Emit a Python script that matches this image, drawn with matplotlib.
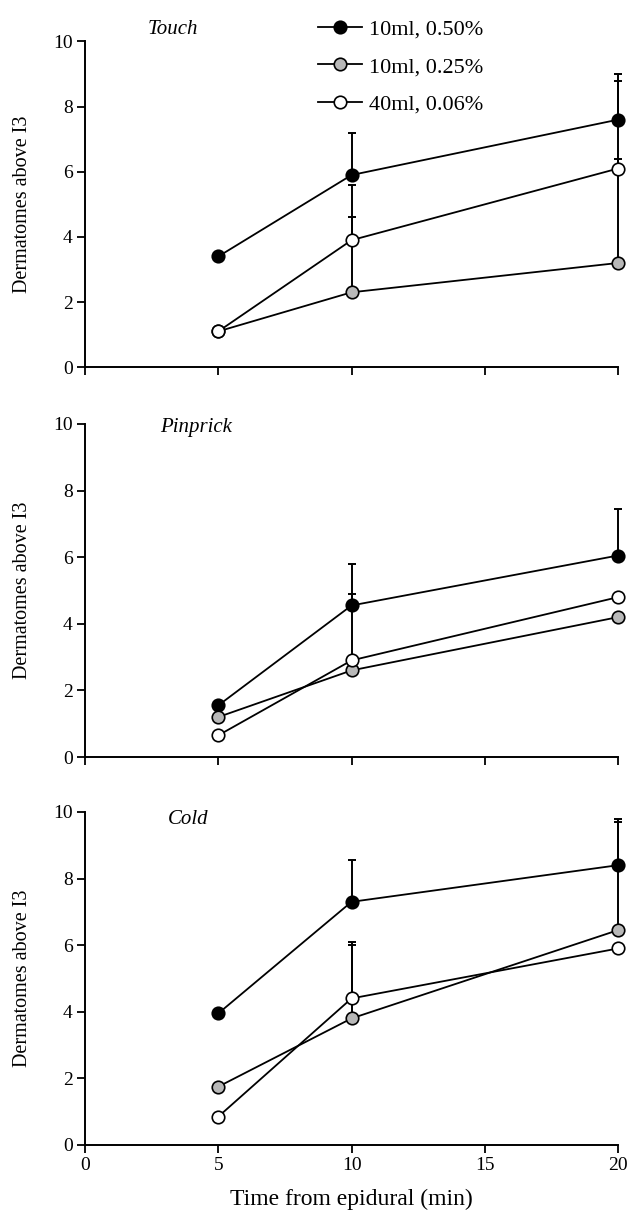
'''Dermatome spread after epidural, three sensory modalities'''
import matplotlib.pyplot as plt

plt.rcParams['font.family'] = ['Liberation Serif', 'DejaVu Serif']

times = [5, 10, 20]
series_labels = ['10ml, 0.50%', '10ml, 0.25%', '40ml, 0.06%']
panel_titles = ['Touch', 'Pinprick', 'Cold']

# mean values per panel, per series (upper error only)
touch_vals = [[3.4, 5.9, 7.6], [1.1, 2.3, 3.2], [1.1, 3.9, 6.1]]
touch_err = [[0, 1.3, 1.4], [0, 2.3, 3.2], [0, 1.7, 2.7]]
pinprick_vals = [[1.55, 4.55, 6.05], [1.2, 2.6, 4.2], [0.65, 2.9, 4.8]]
pinprick_err = [[0, 1.25, 1.4], [0, 0, 0], [0, 2.0, 0]]
cold_vals = [[3.95, 7.3, 8.4], [1.75, 3.8, 6.45], [0.85, 4.4, 5.9]]
cold_err = [[0, 1.25, 1.4], [0, 2.2, 3.25], [0, 1.7, 0]]

all_vals = [touch_vals, pinprick_vals, cold_vals]
all_err = [touch_err, pinprick_err, cold_err]

fills = ['black', '#b8b8b8', 'white']

fig = plt.figure(figsize=(6.3, 12.2), dpi=100)
boxes = [[0.135, 0.699, 0.846, 0.267],
         [0.135, 0.3795, 0.846, 0.273],
         [0.135, 0.0615, 0.846, 0.273]]
title_pos = [(0.118, 1.037), (0.141, 0.988), (0.156, 0.976)]

for p in range(3):
    ax = fig.add_axes(boxes[p])
    for s in range(3):
        ax.errorbar(times, all_vals[p][s], yerr=[[0, 0, 0], all_err[p][s]],
                    fmt='none', ecolor='black', elinewidth=1.4, capsize=3,
                    capthick=1.4, zorder=2, clip_on=False)
        ax.plot(times, all_vals[p][s], '-', color='black', lw=1.3,
                marker='o', ms=9, mfc=fills[s], mec='black', mew=1.2,
                label=series_labels[s], zorder=3, clip_on=False)
    ax.set_xlim(0, 20)
    ax.set_ylim(0, 10)
    ax.set_yticks([0, 2, 4, 6, 8, 10])
    ax.set_xticks([0, 5, 10, 15, 20])
    ax.spines['top'].set_visible(False)
    ax.spines['right'].set_visible(False)
    ax.spines['left'].set_linewidth(1.4)
    ax.spines['bottom'].set_linewidth(1.4)
    ax.tick_params(direction='out', length=6, width=1.3, labelsize=14, pad=3)
    ax.set_ylabel('Dermatomes above I3', fontsize=14.5, labelpad=15)
    if p < 2:
        ax.set_xticklabels([])
    else:
        ax.set_xlabel('Time from epidural (min)', fontsize=17, labelpad=10)
    ax.text(title_pos[p][0], title_pos[p][1], panel_titles[p],
            transform=ax.transAxes, fontsize=15, style='italic', va='center')
    if p == 0:
        ax.legend(loc='upper left', bbox_to_anchor=(0.42, 1.095), frameon=False,
                  fontsize=16, handlelength=2.0, handletextpad=0.3,
                  labelspacing=0.75, borderaxespad=0)

fig.savefig('out.png', dpi=100)
